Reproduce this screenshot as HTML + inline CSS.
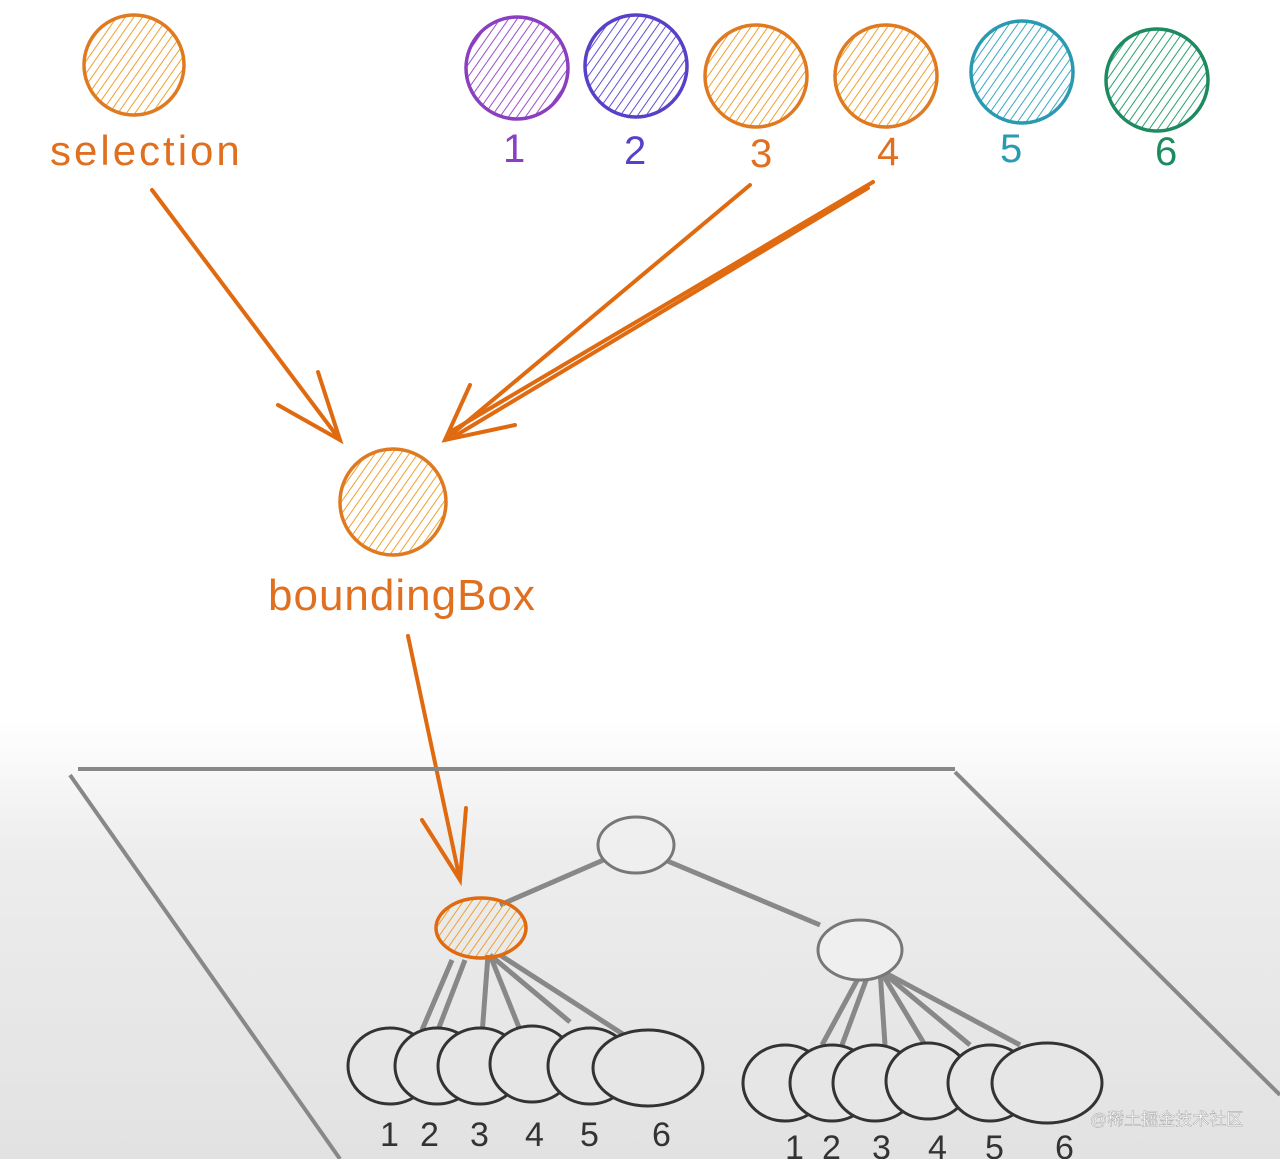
<!DOCTYPE html>
<html><head><meta charset="utf-8"><style>
html,body{margin:0;padding:0;}
body{width:1280px;height:1159px;overflow:hidden;background:linear-gradient(#ffffff 0px,#ffffff 720px,#ededed 850px,#e2e2e2 1159px);font-family:"Liberation Sans",sans-serif;}
svg{position:absolute;left:0;top:0;}
</style></head><body>
<svg width="1280" height="1159" viewBox="0 0 1280 1159">
<defs>
<pattern id="hO" width="7" height="7" patternUnits="userSpaceOnUse" patternTransform="rotate(35)"><line x1="0" y1="0" x2="0" y2="7" stroke="#eea030" stroke-width="2"/></pattern>
<pattern id="hP" width="7" height="7" patternUnits="userSpaceOnUse" patternTransform="rotate(35)"><line x1="0" y1="0" x2="0" y2="7" stroke="#9a50d0" stroke-width="2"/></pattern>
<pattern id="hB" width="7" height="7" patternUnits="userSpaceOnUse" patternTransform="rotate(35)"><line x1="0" y1="0" x2="0" y2="7" stroke="#6050d8" stroke-width="2"/></pattern>
<pattern id="hT" width="7" height="7" patternUnits="userSpaceOnUse" patternTransform="rotate(35)"><line x1="0" y1="0" x2="0" y2="7" stroke="#38a8c0" stroke-width="2"/></pattern>
<pattern id="hG" width="7" height="7" patternUnits="userSpaceOnUse" patternTransform="rotate(35)"><line x1="0" y1="0" x2="0" y2="7" stroke="#28a070" stroke-width="2"/></pattern>
</defs>
<g stroke-width="3.5">
<circle cx="134" cy="65" r="50" fill="url(#hO)" stroke="#e07a20"/>
<circle cx="517" cy="68" r="51" fill="url(#hP)" stroke="#8a3fc0"/>
<circle cx="636" cy="66" r="51" fill="url(#hB)" stroke="#5a3fc8"/>
<circle cx="756" cy="76" r="51" fill="url(#hO)" stroke="#e07a20"/>
<circle cx="886" cy="76" r="51" fill="url(#hO)" stroke="#e07a20"/>
<circle cx="1022" cy="72" r="51" fill="url(#hT)" stroke="#2a9ab0"/>
<circle cx="1157" cy="80" r="51" fill="url(#hG)" stroke="#1e8a60"/>
<circle cx="393" cy="502" r="53" fill="url(#hO)" stroke="#e07a20"/>
</g>
<g font-family="Liberation Sans, sans-serif" font-size="40">
<text x="50" y="165" fill="#e07020" font-size="42" letter-spacing="3">selection</text>
<text x="503" y="162" fill="#8a3fc0">1</text>
<text x="624" y="164" fill="#5a3fc8">2</text>
<text x="750" y="167" fill="#e07020">3</text>
<text x="877" y="165" fill="#e07020">4</text>
<text x="1000" y="162" fill="#2a9ab0">5</text>
<text x="1155" y="165" fill="#1e8a60">6</text>
<text x="268" y="610" fill="#e07020" font-size="44" letter-spacing="1">boundingBox</text>
</g>
<g stroke="#e06a10" stroke-width="4" fill="none" stroke-linecap="round">
<line x1="152" y1="190" x2="340" y2="440"/>
<polyline points="278,405 340,440 318,372"/>
<line x1="750" y1="185" x2="445" y2="440"/>
<line x1="873" y1="182" x2="450" y2="432"/>
<line x1="868" y1="188" x2="455" y2="436"/>
<polyline points="470,385 445,440 515,425"/>
<line x1="408" y1="636" x2="460" y2="880"/>
<polyline points="422,820 460,880 466,808"/>
</g>
<g stroke="#888" stroke-width="4" fill="none">
<line x1="78" y1="769" x2="955" y2="769"/>
<line x1="70" y1="775" x2="340" y2="1159"/>
<line x1="955" y1="772" x2="1280" y2="1095"/>
</g>
<g stroke="#888" stroke-width="5">
<line x1="500" y1="905" x2="615" y2="855"/>
<line x1="665" y1="860" x2="820" y2="925"/>
<line x1="452" y1="960" x2="422" y2="1030"/>
<line x1="465" y1="960" x2="438" y2="1030"/>
<line x1="488" y1="955" x2="482" y2="1035"/>
<line x1="490" y1="955" x2="520" y2="1030"/>
<line x1="490" y1="955" x2="570" y2="1022"/>
<line x1="500" y1="955" x2="632" y2="1040"/>
<line x1="860" y1="975" x2="822" y2="1045"/>
<line x1="868" y1="975" x2="842" y2="1045"/>
<line x1="880" y1="970" x2="885" y2="1045"/>
<line x1="880" y1="970" x2="925" y2="1045"/>
<line x1="880" y1="970" x2="970" y2="1045"/>
<line x1="880" y1="970" x2="1020" y2="1045"/>
</g>
<g stroke="#777" stroke-width="3" fill="#efefef">
<ellipse cx="636" cy="845" rx="38" ry="28"/>
<ellipse cx="860" cy="950" rx="42" ry="30"/>
</g>
<ellipse cx="481" cy="928" rx="45" ry="30" fill="url(#hO)" stroke="#e06a10" stroke-width="3.5"/>
<g stroke="#333" stroke-width="3" fill="#e6e6e6">
<ellipse cx="390" cy="1066" rx="42" ry="38"/>
<ellipse cx="437" cy="1066" rx="42" ry="38"/>
<ellipse cx="480" cy="1066" rx="42" ry="38"/>
<ellipse cx="532" cy="1064" rx="42" ry="38"/>
<ellipse cx="590" cy="1066" rx="42" ry="38"/>
<ellipse cx="648" cy="1068" rx="55" ry="38"/>
<ellipse cx="785" cy="1083" rx="42" ry="38"/>
<ellipse cx="832" cy="1083" rx="42" ry="38"/>
<ellipse cx="875" cy="1083" rx="42" ry="38"/>
<ellipse cx="928" cy="1081" rx="42" ry="38"/>
<ellipse cx="990" cy="1083" rx="42" ry="38"/>
<ellipse cx="1047" cy="1083" rx="55" ry="40"/>
</g>
<g font-family="Liberation Sans, sans-serif" font-size="34" fill="#333">
<text x="380" y="1146">1</text><text x="420" y="1146">2</text><text x="470" y="1146">3</text><text x="525" y="1146">4</text><text x="580" y="1146">5</text><text x="652" y="1146">6</text>
<text x="785" y="1159">1</text><text x="822" y="1159">2</text><text x="872" y="1159">3</text><text x="928" y="1159">4</text><text x="985" y="1159">5</text><text x="1055" y="1159">6</text>
</g>
<text x="1090" y="1125" font-family="Liberation Sans, Noto Sans CJK SC, sans-serif" font-size="17" fill="#fff" stroke="#999" stroke-width="0.4">@稀土掘金技术社区</text>
</svg>
</body></html>
